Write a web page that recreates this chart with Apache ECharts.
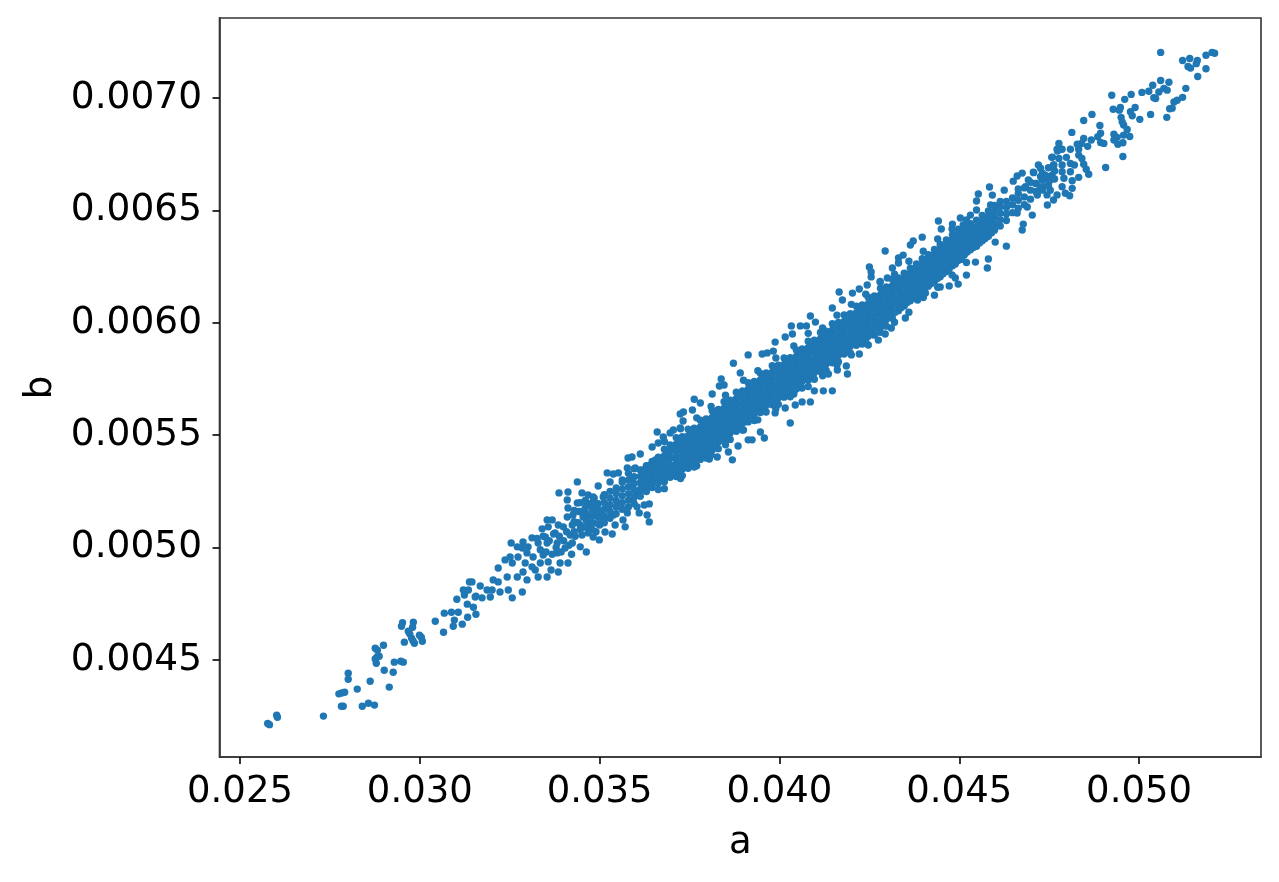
<!DOCTYPE html>
<html><head><meta charset="utf-8">
<style>html,body{margin:0;padding:0;background:#fff}#c{width:1279px;height:882px}</style>
<script src="https://cdn.jsdelivr.net/npm/echarts@6/dist/echarts.min.js"></script>
</head><body><div id="c"></div>
<script>
const xTicks=[0.025,0.030,0.035,0.040,0.045,0.050];
const yTicks=[0.0045,0.0050,0.0055,0.0060,0.0065,0.0070];
const xName='a', yName='b';
// sparse lower tail, read point by point
const lowTail=[[.02577,.004217],[.02582,.004212],[.02602,.004254],[.02604,.004245],[.02732,.00425],[.02782,.004294],[.02787,.004294],[.02775,.004349],[.02783,.004353],[.02791,.004356],[.02801,.004441],[.02801,.004414],[.02826,.00437],[.0284,.004294],[.02857,.004307],[.02874,.004299],[.02862,.004405],[.02915,.004379],[.02901,.004454],[.02926,.004445],[.02929,.00449],[.02947,.004494],[.02954,.00449],[.02879,.004485],[.02876,.004504],[.02881,.004513],[.02887,.004516],[.02876,.004552],[.02882,.004543],[.02899,.004565],[.02957,.004579],[.02985,.004574],[.03007,.004583],[.03004,.004601],[.02999,.00461],[.02977,.004597],[.02972,.004616],[.02981,.004585],[.02968,.004628],[.02949,.00465],[.02952,.004665],[.02982,.004668],[.0298,.004645],[.03043,.004672],[.03066,.004623],[.03068,.004708],[.03088,.004712],[.03107,.004712],[.03096,.004677],[.03093,.00465],[.03118,.004659],[.03133,.00469],[.03156,.004703],[.03132,.004748],[.03149,.004734],[.03103,.00477],[.03156,.004783],[.03124,.004789],[.03121,.004811],[.03138,.004847],[.03145,.004847],[.03135,.004811]];
// lower band, read point by point
const lowBand=[[.03168,.004829],[.03154,.00478],[.03187,.004811],[.03201,.004811],[.03218,.004909],[.03204,.004856],[.03218,.004847],[.03243,.004869],[.03246,.004811],[.03257,.004776],[.03223,.004802],[.03196,.00478],[.03173,.004776],[.03271,.004869],[.03285,.004802],[.03298,.004856],[.03287,.004891],[.03321,.0049],[.03329,.004869],[.03354,.004869],[.03365,.0049],[.03385,.004891],[.03237,.004945],[.03257,.004931],[.03251,.004958],[.03271,.005003],[.03254,.00502],[.03287,.005025],[.03285,.004998],[.03301,.005003],[.03293,.004931],[.03312,.004914],[.03335,.004931],[.03357,.004936],[.0339,.004931],[.03412,.004931],[.03315,.004958],[.03298,.004976],[.03273,.004958],[.03343,.004967],[.03382,.004976],[.03404,.004998],[.03463,.00498],[.03446,.005003],[.03424,.00502],[.03382,.00502],[.03354,.00502],[.03329,.00502],[.03312,.005043],[.0334,.005083],[.03354,.005123],[.03368,.005123],[.03357,.005092],[.03385,.0051],[.03399,.005092],[.03376,.005065],[.03349,.005047],[.03418,.005056],[.03424,.0051],[.0341,.005136],[.03412,.005176],[.0341,.005212],[.03387,.005243],[.03412,.005247],[.03438,.005292],[.03451,.005243],[.03438,.005198],[.0346,.005176],[.03426,.005145],[.03454,.005136],[.03446,.0051],[.03482,.005109],[.03468,.005065],[.03451,.005056],[.03499,.005034],[.03482,.005047],[.03535,.00506],[.03515,.005069],[.03571,.005092],[.03543,.0051],[.0351,.005123],[.03488,.005145],[.03468,.005234],[.03482,.005225],[.03496,.005274],[.0351,.005225],[.03521,.005332],[.03538,.005327],[.03552,.005332],[.03529,.005292],[.03563,.005301],[.03493,.005181],[.03521,.005181],[.03549,.005198],[.03538,.005145],[.03577,.005154],[.03565,.005123],[.0361,.005154],[.03632,.005145],[.03638,.005114],[.03624,.005189],[.03638,.005194],[.03604,.005181],[.03579,.005398],[.0359,.005403],[.03613,.005416],[.03577,.005354],[.03599,.005354],[.03585,.005301],[.03604,.005247],[.03593,.005212],[.03646,.005447],[.03663,.005465],[.0366,.005514],[.03677,.005492],[.03696,.00551],[.03732,.005563],[.03724,.005532],[.03705,.005523],
[.03326,.00504],[.03335,.00499],[.03343,.00505],[.03351,.00498],[.0336,.00503],[.03368,.00497],[.03372,.00506],[.03379,.005],[.03388,.00505],[.03393,.00498],[.034,.00503],[.03408,.00507],[.03415,.00501],[.03422,.00497],[.03432,.00505],[.0344,.00511],[.03442,.00516],[.03452,.00509],[.03455,.00515],[.0346,.00521],[.0347,.0051],[.03472,.00514],[.03474,.00519],[.03485,.00522],[.0349,.00507],[.035,.0051],[.03505,.00516]];
// filled middle of the cloud: a, then the b values estimated at that a
const coreColumns=[
[.03429,[.00507,.005115,.005165]],[.03446,[.00508,.00516,.0052]],[.03463,[.00509,.00512,.00515,.0052]],
[.03479,[.00508,.00511,.00514,.00517,.0052]],[.03496,[.005105,.005135,.005165,.005195]],[.03513,[.00511,.00514,.00517,.0052,.005235]],[.03529,[.00513,.00516,.00519,.00522,.00525]],[.03546,[.00515,.00518,.00521,.00524,.005265]],[.03563,[.00517,.0052,.00523,.00526,.00529]],[.0358,[.00518,.00521,.00524,.00527,.0053,.00533]],[.03596,[.005195,.005225,.005255,.005285,.005315,.00535]],
[.03613,[.005228,.005259,.005288,.005316,.005345]],[.0363,[.005249,.005277,.005306,.005336,.005364]],[.03646,[.005267,.005296,.005326,.005354,.005383]],[.03663,[.005258,.005287,.005316,.005345,.005374,.005402]],[.0368,[.005293,.005321,.005351,.00538,.005408,.005437]],[.03696,[.005313,.005341,.005369,.005398,.005427,.005456]],[.03713,[.005316,.005345,.005373,.005402,.005431,.00546,.005489]],[.0373,[.00532,.005349,.005378,.005407,.005436,.005465,.005493]],[.03746,[.005353,.005382,.005411,.00544,.005469,.005498,.005527]],[.03763,[.005358,.005387,.005416,.005445,.005474,.005502,.005531]],[.0378,[.005392,.005421,.00545,.005479,.005508,.005537,.005566]],[.03796,[.005398,.005427,.005456,.005485,.005514,.005543,.005572]],[.03813,[.005434,.005463,.005492,.005521,.00555,.005579,.005608]],[.0383,[.00544,.005469,.005498,.005527,.005556,.005585,.005614]],[.03846,[.005475,.005504,.005533,.005562,.005591,.00562,.005649]],[.03863,[.005481,.00551,.005539,.005568,.005597,.005626,.005655]],[.0388,[.005517,.005546,.005575,.005604,.005633,.005662,.005691]],[.03897,[.005523,.005552,.005581,.00561,.005639,.005668,.005697]],[.03913,[.005559,.005588,.005617,.005646,.005675,.005704,.005733]],[.0393,[.005565,.005594,.005623,.005652,.005681,.00571,.005739]],[.03947,[.005601,.00563,.005659,.005688,.005717,.005746,.005775]],[.03963,[.005603,.005632,.005661,.00569,.005719,.005748,.005777]],[.0398,[.005635,.005664,.005693,.005722,.005751,.00578,.005809]],[.03997,[.005637,.005666,.005695,.005724,.005753,.005782,.005811]],[.04013,[.005669,.005698,.005727,.005756,.005785,.005814,.005843]],[.0403,[.005671,.0057,.005729,.005758,.005787,.005816,.005845]],[.04047,[.005705,.005734,.005763,.005792,.005821,.00585,.005879]],[.04063,[.00571,.005739,.005768,.005797,.005826,.005855,.005884]],[.0408,[.005744,.005773,.005802,.005831,.00586,.005889,.005918]],[.04097,[.005749,.005778,.005807,.005836,.005865,.005894,.005923]],[.04114,[.005783,.005812,.005841,.00587,.005899,.005928,.005957]],[.0413,[.005788,.005817,.005846,.005875,.005904,.005933,.005962]],[.04147,[.005822,.005851,.00588,.005909,.005938,.005967,.005996]],[.04164,[.005827,.005856,.005885,.005914,.005943,.005972,.006001]],[.0418,[.005861,.00589,.005919,.005948,.005977,.006006,.006035]],[.04197,[.005866,.005895,.005924,.005953,.005982,.006011,.00604]],[.04214,[.0059,.005929,.005958,.005987,.006016,.006045,.006074]],[.0423,[.005905,.005934,.005963,.005992,.006021,.00605,.006079]],[.04247,[.00594,.005969,.005998,.006027,.006056,.006085,.006114]],[.04264,[.005945,.005974,.006003,.006032,.006061,.00609,.006119]],[.04281,[.00598,.006009,.006038,.006067,.006096,.006125,.006154]],[.04297,[.005985,.006014,.006043,.006072,.006101,.00613,.006159]],[.04314,[.00602,.006049,.006078,.006107,.006136,.006165,.006194]],[.04331,[.006054,.006083,.006112,.006141,.00617,.006199]],[.04347,[.006075,.006106,.006133,.006164,.006195,.00622]],[.04364,[.006098,.006127,.006156,.006185,.006214,.006243]],[.04381,[.00612,.006149,.006178,.006207,.006236,.006262]],[.04397,[.006142,.006171,.0062,.006229,.006258,.006285]],[.04414,[.006163,.00619,.006219,.006248,.006277,.006303]],[.04431,[.006185,.006214,.006243,.006272,.006301,.006326]],[.04447,[.006205,.006235,.006264,.006292,.00632,.006348]],[.04464,[.006228,.006257,.006286,.006315,.006344,.006368]],[.04481,[.006254,.006283,.006312,.006341,.00637,.006392]],[.04497,[.006277,.006306,.006335,.006364,.006393,.006416]],[.04514,[.006301,.00633,.006359,.006388,.006417]],[.04531,[.006325,.006354,.006383,.006412,.006441]],[.04548,[.00634,.006369,.006398,.006427,.006456]],[.04564,[.006365,.006394,.006423,.006452,.006478]],[.04581,[.006385,.006414,.006443,.006472,.006497]],[.04598,[.006412,.006441,.00647,.006499,.006522]],[.04614,[.00643,.006459,.006488,.006517,.00654]],[.04631,[.006455,.006484,.006513,.00654]],
[.04648,[.00649,.006525,.006555]],[.04664,[.00651,.006545,.006575]],[.04681,[.006525,.00656,.0066]],[.04698,[.00655,.00659,.006625]],[.04714,[.006585,.00662]],[.04731,[.00659,.006635,.006665]],[.04748,[.00661,.00665,.00669]],[.04765,[.00664,.006675]]];
// further estimates inside the solid part of the cloud
const coreInner=[
[.03621,[.005255,.005285,.005315,.005345]],[.03638,[.005275,.005305,.005335,.005365]],[.03655,[.00529,.005325,.005355,.00539]],[.03671,[.005305,.005335,.005365,.0054]],[.03688,[.00532,.00535,.005385,.00542]],[.03705,[.005335,.005365,.0054,.005435]],
[.03721,[.005341,.005373,.005403,.005435,.005466]],[.03738,[.00536,.005392,.005422,.005454,.005485]],[.03755,[.005379,.005411,.005441,.005473,.005504]],[.03771,[.005399,.005431,.005461,.005493,.005524]],[.03788,[.005419,.005451,.005481,.005513,.005544]],[.03805,[.00544,.005472,.005502,.005534,.005565]],[.03821,[.005461,.005493,.005523,.005555,.005586]],[.03838,[.005482,.005514,.005544,.005576,.005607]],[.03855,[.005502,.005534,.005564,.005596,.005627]],[.03871,[.005523,.005555,.005585,.005617,.005648]],[.03888,[.005544,.005576,.005606,.005638,.005669]],[.03905,[.005565,.005597,.005627,.005659,.00569]],[.03921,[.005586,.005618,.005648,.00568,.005711]],[.03938,[.005607,.005639,.005669,.005701,.005732]],[.03955,[.005626,.005658,.005688,.00572,.005751]],[.03971,[.005643,.005675,.005705,.005737,.005768]],[.03988,[.00566,.005692,.005722,.005754,.005785]],[.04005,[.005677,.005709,.005739,.005771,.005802]],[.04021,[.005694,.005726,.005756,.005788,.005819]],[.04038,[.005712,.005744,.005774,.005806,.005837]],[.04055,[.005732,.005764,.005794,.005826,.005857]],[.04071,[.005751,.005783,.005813,.005845,.005876]],[.04088,[.005771,.005803,.005833,.005865,.005896]],[.04105,[.00579,.005822,.005852,.005884,.005915]],[.04122,[.00581,.005842,.005872,.005904,.005935]],[.04138,[.005829,.005861,.005891,.005923,.005954]],[.04155,[.005849,.005881,.005911,.005943,.005974]],[.04172,[.005868,.0059,.00593,.005962,.005993]],[.04188,[.005888,.00592,.00595,.005982,.006013]],[.04205,[.005907,.005939,.005969,.006001,.006032]],[.04222,[.005927,.005959,.005989,.006021,.006052]],[.04238,[.005947,.005979,.006009,.006041,.006072]],[.04255,[.005967,.005999,.006029,.006061,.006092]],[.04272,[.005987,.006019,.006049,.006081,.006112]],[.04289,[.006007,.006039,.006069,.006101,.006132]],[.04305,[.006027,.006059,.006089,.006121,.006152]],[.04322,[.006047,.006079,.006109,.006141,.006172]],[.04339,[.006068,.0061,.00613,.006162,.006193]],[.04355,[.00609,.006122,.006152,.006184,.006215]],[.04372,[.006111,.006143,.006173,.006205,.006236]],[.04389,[.006132,.006164,.006194,.006226,.006257]],[.04405,[.006154,.006186,.006216,.006248,.006279]],[.04422,[.006175,.006207,.006237,.006269,.0063]],[.04439,[.006197,.006229,.006259,.006291,.006322]],[.04455,[.006218,.00625,.00628,.006312,.006343]],[.04472,[.00624,.006272,.006302,.006334,.006365]],[.04489,[.006261,.006293,.006323,.006355,.006386]],[.04506,[.006282,.006314,.006344,.006376,.006407]],
[.04522,[.006315,.006345,.006375,.006405,.00643]],[.04539,[.006335,.006365,.006395,.006425]],[.04556,[.006355,.006385,.006415,.006445]],[.04572,[.006375,.006405,.006435,.006465]],[.0459,[.0064,.00643,.00646,.00649]]];
// scattered points on the upper and lower edges of the cloud
const edgeUpper=[[.03872,.00582],[.03838,.00575],[.03763,.00566],[.0378,.005643],[.03724,.005594],[.03733,.005603],[.03758,.005612],[.03813,.005683],[.03833,.005719],[.03846,.005723],[.03891,.005777],[.03913,.005857],[.03952,.005861],[.03988,.005914],[.03983,.005874],[.03966,.005866],[.04016,.005937],[.04033,.005986],[.04036,.00595],[.04058,.005986],[.04075,.005986],[.04086,.00603],[.041,.006003],[.04166,.006137],[.04175,.006101],[.04147,.006066],[.04203,.006132],[.04222,.00615],[.04244,.006168],[.0425,.006248],[.04255,.006226],[.04255,.006204],[.04314,.006244],[.04331,.006266],[.0428,.006181],[.043,.006199],[.04294,.006319],[.04331,.006288],[.04344,.006301],[.04364,.006346],[.04372,.006364],[.04397,.006381],[.04442,.006453],[.0445,.006417],[.04481,.006439],[.04503,.006466],[.04531,.006479],[.04511,.006435],[.04548,.006502],[.04584,.006604],[.04553,.006573],[.04548,.006542],[.04592,.006568],[.04587,.006524],[.04625,.00659],[.04661,.006653],[.0465,.00663],[.04675,.006666],[.04664,.006595],[.04706,.00667],[.04692,.006635],[.0472,.006702],[.04726,.006688],[.04759,.006737],[.04762,.006702],[.04773,.006764],[.04739,.006657],[.04753,.006635],[.04726,.006604],
[.0368,.005472],[.03725,.005528],[.0377,.005577],[.0381,.005628],[.0385,.005678],[.039,.005744],[.0394,.005787],[.0399,.005843],[.0404,.005897],[.0408,.005953],[.0412,.005977],[.0416,.006034],[.042,.006082],[.0424,.006127],[.0428,.006184],[.0432,.006216],[.0436,.006274],[.044,.006318],[.0444,.006373],[.0448,.006417],[.0452,.006458]];
const edgeLower=[[.0403,.005554],[.03958,.005487],[.03913,.005479],[.03924,.005479],[.03885,.005452],[.03858,.005425],[.03827,.005403],[.03805,.005394],[.03869,.00539],[.03947,.005514],[.03988,.005599],[.04016,.005621],[.04044,.005634],[.04063,.005648],[.04086,.005648],[.04097,.005697],[.04122,.005697],[.04147,.005697],[.04136,.005772],[.04189,.005772],[.04186,.005808],[.04161,.00579],[.04222,.005861],[.04275,.005923],[.04247,.005901],[.04294,.00595],[.04311,.005977],[.0435,.006021],[.04745,.006524],[.04762,.006546],[.04703,.006479],[.04689,.006515],[.04717,.006568],[.04675,.006413],[.04678,.006439],[.04661,.006488],[.04631,.006341],[.046,.006359],[.04578,.006244],[.04581,.006284],[.04545,.00627],[.0452,.006212],[.04497,.006172],[.04472,.006164],[.04489,.006199],[.04447,.006159],[.04431,.006123],[.04406,.006132],[.04384,.006101],
[.0368,.005262],[.03725,.005307],[.0377,.005364],[.0381,.005412],[.0385,.005457],[.039,.005523],[.0394,.005568],[.0399,.005618],[.0404,.005683],[.0408,.005716],[.0412,.005764],[.0416,.005812],[.042,.005857],[.0424,.005913],[.0428,.005958],[.0432,.006002],[.0436,.006047],[.044,.006112],[.0444,.006158],[.0448,.006213],[.0452,.006268]];
// sparse upper tail, read point by point
const highTail=[[.0506,.007203],[.05203,.007203],[.0521,.007199],[.05186,.00719],[.05121,.007167],[.05141,.007176],[.05162,.007167],[.05159,.007153],[.05136,.00714],[.05143,.007133],[.05186,.00713],[.05163,.007096],[.0506,.007078],[.05083,.00707],[.05038,.007057],[.0513,.007043],[.05069,.007043],[.05078,.007035],[.05055,.007027],[.05027,.00703],[.05008,.007025],[.05041,.007001],[.05046,.006998],[.05121,.007003],[.05106,.00699],[.05097,.006982],[.05092,.006955],[.05085,.006952],[.05077,.006914],[.05032,.006927],[.05002,.006905],[.04989,.006958],[.04976,.006939],[.04981,.006921],[.04978,.007016],[.0496,.006994],[.04924,.007012],[.04928,.00695],[.04948,.006958],[.04945,.006946],[.0495,.006914],[.04953,.006894],[.04957,.00688],[.04967,.00686],[.04974,.006829],[.04957,.006835],[.0493,.006839],[.0493,.006813],[.04939,.006825],[.04941,.006794],[.04955,.006801],[.04955,.00674],[.04907,.006691],[.04869,.006927],[.04846,.0069],[.04891,.006878],[.04813,.006847],[.04893,.006843],[.04885,.006828],[.04867,.006813],[.04846,.00682],[.04902,.006798],[.04893,.006802],[.04857,.006785],[.04828,.006794],[.0484,.006798],[.04777,.006798],[.04809,.006772],[.04786,.006772],[.04772,.006772],[.04832,.006772],[.04832,.006746],[.04841,.006731],[.04846,.006705],[.04853,.006683],[.0486,.006661],[.04832,.006647],[.04757,.006736],[.04777,.006731],[.04798,.006736],[.04763,.006702],[.04786,.006702],[.04809,.006709],[.0482,.006702],[.04786,.006672],[.04809,.006672],[.04791,.006643],[.04814,.006632],[.04814,.006598],[.04807,.006565],[.04786,.006605],[.04795,.006576],[.04772,.006569],[.04758,.006657],[.04749,.006628],[.04707,.006668],[.04726,.00665],[.04712,.00662],[.04735,.006605],[.04753,.00659],[.04684,.006605],[.04716,.006576],[.04744,.006569]];

const points=[...lowTail,...lowBand,...edgeUpper,...edgeLower,...highTail];
[...coreColumns,...coreInner].forEach(([a,bs])=>bs.forEach(b=>points.push([a,b])));

const axisCommon={
  type:'value',nameLocation:'middle',
  splitLine:{show:false},
  axisLine:{show:true,onZero:false,lineStyle:{color:'#333',width:1.6}},
  axisTick:{show:true,length:7,lineStyle:{color:'#000',width:1.6}},
  nameTextStyle:{fontFamily:'DejaVu Sans',fontSize:37,color:'#000'}
};
const chart=echarts.init(document.getElementById('c'),null,{renderer:'canvas'});
chart.setOption({
  animation:false,backgroundColor:'#fff',
  grid:{left:219.5,top:18,width:1041.5,height:739,show:true,borderColor:'#333',borderWidth:1.6,containLabel:false,outerBoundsMode:'none'},
  xAxis:{...axisCommon,min:0.02443,max:0.05339,name:xName,nameGap:68,
    axisTick:{...axisCommon.axisTick,customValues:xTicks},
    axisLabel:{customValues:xTicks,formatter:v=>v.toFixed(3),fontFamily:'DejaVu Sans',fontSize:37,color:'#000',margin:17,hideOverlap:false}},
  yAxis:{...axisCommon,min:0.004068,max:0.007356,name:yName,nameGap:160,
    axisTick:{...axisCommon.axisTick,customValues:yTicks},
    axisLabel:{customValues:yTicks,formatter:v=>v.toFixed(4),fontFamily:'DejaVu Sans',fontSize:37.5,color:'#000',margin:17.5,hideOverlap:false}},
  series:[{type:'scatter',data:points,symbol:'circle',symbolSize:7.4,itemStyle:{color:'#1f77b4',opacity:1},silent:true,clip:false}]
});
</script></body></html>
